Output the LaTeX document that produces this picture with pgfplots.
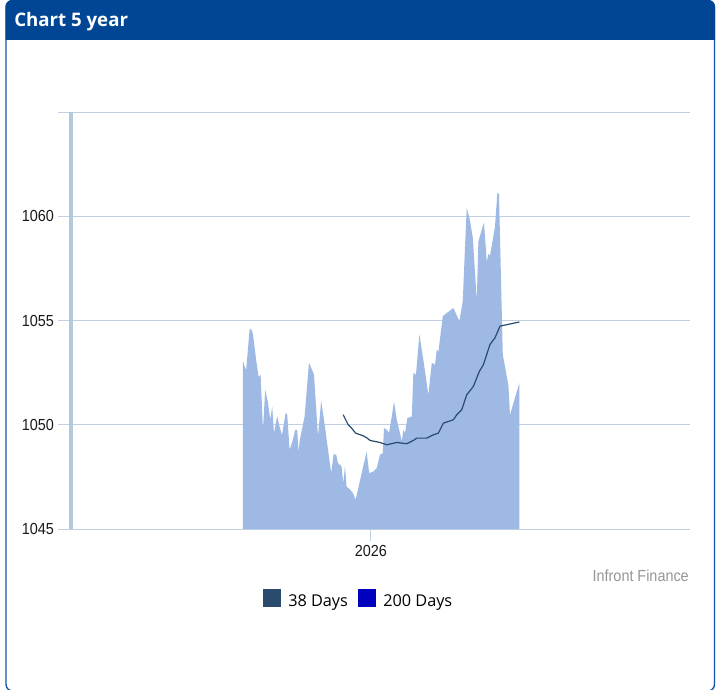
\documentclass[border=0pt]{standalone}
\usepackage{fontspec}
\setmainfont{Open Sans}
\newfontfamily\arialn[FakeStretch=0.9]{Liberation Sans}
\usepackage{pgfplots}
\pgfplotsset{compat=1.18}

\definecolor{headerblue}{RGB}{0,70,148}
\definecolor{panelblue}{RGB}{20,80,165}
\definecolor{gridblue}{RGB}{192,208,226}
\definecolor{axisblue}{RGB}{180,199,221}
\definecolor{areablue}{RGB}{157,185,228}
\definecolor{maline}{RGB}{42,75,110}
\definecolor{matwo}{RGB}{0,0,190}
\definecolor{ticktext}{RGB}{25,25,25}
\definecolor{credit}{RGB}{150,150,150}

\begin{document}
\begin{tikzpicture}
% frame, header and legend, in pixel units (y runs downwards)
\begin{scope}[x=0.75pt, y=-0.75pt]
  \path[fill=white] (0,0) rectangle (721,689);
  \begin{scope}
    \clip (0,0) rectangle (721,689);
    \draw[panelblue, line width=1pt, rounded corners=5] (6,0.5) rectangle (714.5,691);
    \clip (0,0) rectangle (721,39);
    \fill[headerblue, rounded corners=5] (5.5,0) rectangle (715,60);
  \end{scope}
  \node[anchor=base west, inner sep=0, text=white, font=\bfseries\fontsize{14}{16}\selectfont] at (14,26.5) {Chart 5 year};

  \fill[maline] (263,589) rectangle (281,607);
  \node[anchor=base west, inner sep=0, font=\fontsize{12.2}{14}\selectfont] at (288,606) {38 Days};
  \fill[matwo] (358,589) rectangle (376,607);
  \node[anchor=base west, inner sep=0, font=\fontsize{12.2}{14}\selectfont] at (383,606) {200 Days};

  \node[anchor=base east, inner sep=0, text=credit, font=\arialn\fontsize{12}{14}\selectfont] at (689,581) {Infront Finance};
\end{scope}

\begin{axis}[
    at={(52.875pt,-396.75pt)}, anchor=south west,
    scale only axis,
    width=464.6pt, height=312.75pt,
    xmin=-150.25, xmax=159.5,
    ymin=1045, ymax=1065,
    axis x line*=bottom, axis y line*=left,
    axis line style={-},
    x axis line style={draw=gridblue, line width=0.75pt},
    y axis line style={draw=axisblue, line width=3pt},
    xtick={0}, xticklabels={2026},
    ytick={1045,1050,1055,1060,1065},
    yticklabels={1045,1050,1055,1060,{}},
    ymajorgrids,
    major grid style={draw=gridblue, line width=0.75pt},
    tick align=outside,
    major tick length=9pt,
    tick style={draw=gridblue, line width=0.75pt},
    /pgf/number format/assume math mode=true,
    tick label style={font=\arialn\fontsize{12}{14}\selectfont, text=ticktext},
  ]
  % price (area)
  \addplot[fill=areablue, draw=none] coordinates {
    (-64,1053.04) (-63.2,1052.8) (-62.4,1052.64) (-60.7,1054.57) (-59.9,1054.6)
    (-59,1054.33) (-57.4,1053.1) (-56.2,1052.3) (-55.2,1052.4) (-54,1049.76)
    (-52.9,1051.68) (-51.5,1051.06) (-50.4,1050.24) (-49.4,1050.87) (-48.5,1049.6)
    (-46.9,1050.4) (-45.7,1049.9) (-44.5,1049.5) (-42.7,1050.56) (-41.9,1050.5)
    (-40.7,1048.8) (-39,1049.28) (-37.9,1049.76) (-36.9,1049.76) (-36.2,1048.7)
    (-35.7,1049.2) (-33.2,1050.4) (-31,1052.97) (-29.5,1052.64) (-28.5,1052.4)
    (-26.5,1049.44) (-24.9,1051.15) (-23.5,1050.24) (-19.9,1047.68) (-18.7,1048.59)
    (-17.4,1048.56) (-16.5,1048.16) (-14.7,1048.0) (-13.9,1047.2) (-13,1048.0)
    (-12.2,1047.03) (-10.5,1046.9) (-8.9,1046.7) (-7.7,1046.4) (-2.2,1048.7)
    (-0.9,1047.68) (1.2,1047.76) (2.9,1047.92) (4.5,1048.56) (5.9,1048.64)
    (6.5,1049.84) (7.9,1049.76) (9,1049.6) (10.4,1050.4) (11.5,1051.12)
    (12.9,1050.24) (14.5,1049.6) (15.4,1049.2) (16.2,1049.76) (17,1049.6)
    (18.2,1050.32) (20.4,1050.4) (21.2,1052.49) (22.5,1052.4) (24.2,1054.33)
    (26.2,1053.1) (28.7,1051.44) (30.4,1052.97) (32,1052.88) (32.9,1053.6)
    (33.7,1053.5) (35.9,1055.2) (37.9,1055.36) (41.2,1055.6) (44.2,1054.97)
    (45.9,1055.93) (47,1058.5) (47.9,1060.4) (49.5,1059.8) (50.9,1058.97)
    (52.9,1055.93) (53.7,1058.8) (56.5,1059.7) (57.9,1057.8) (58.7,1058.2)
    (59.5,1058.1) (62,1059.5) (63.2,1061.14) (64,1061.06) (65.9,1053.37)
    (68.7,1051.9) (69.5,1050.48) (74.2,1052.0)
  } \closedcycle;
  % 38 day moving average
  \addplot[maline, line width=0.9pt] coordinates {
    (-13.9,1050.48) (-11.4,1050.0) (-9.7,1049.84) (-7.7,1049.6) (-3.9,1049.47)
    (-1.9,1049.36) (-0.5,1049.25) (4.5,1049.15) (7.9,1049.04) (12.9,1049.15)
    (17.9,1049.09) (21.2,1049.25) (22.9,1049.36) (27.9,1049.36) (31.2,1049.52)
    (33.7,1049.6) (36.2,1050.08) (41.2,1050.24) (42.9,1050.48) (45.4,1050.72)
    (47.9,1051.44) (51.2,1051.84) (54.2,1052.56) (56.2,1052.88) (59.5,1053.85)
    (62,1054.17) (64.5,1054.73) (67.9,1054.8) (74.2,1054.93)
  };
\end{axis}
\end{tikzpicture}
\end{document}
